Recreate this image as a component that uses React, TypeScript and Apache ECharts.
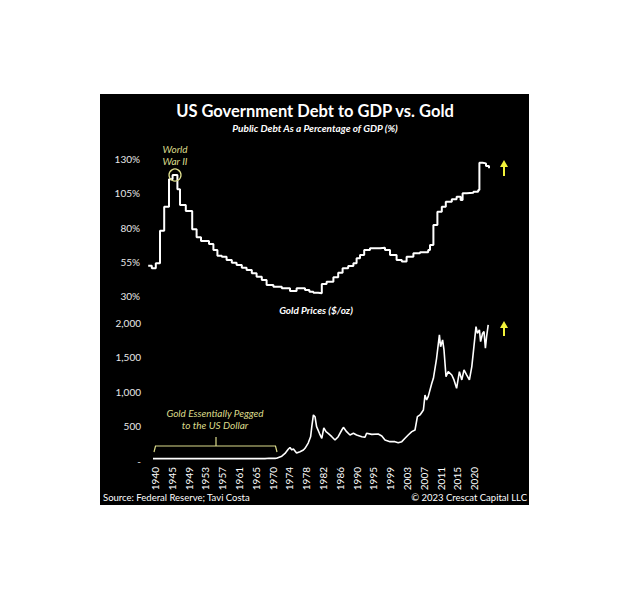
import React, { useEffect, useRef } from "react";
import * as echarts from "echarts";

// ---------------- data ----------------
const debtYears = [
  1938.3, 1939.2, 1940.2, 1941.25, 1942.3, 1943.5, 1944.4, 1945.6, 1946.25, 1947.7,
  1949.3, 1950.4, 1951.5, 1953.5, 1954.6, 1955.6, 1956.7, 1957.9, 1959.2, 1960.4,
  1961.7, 1962.9, 1964.2, 1965.4, 1966.7, 1967.9, 1969.6, 1971.7, 1973.75, 1975.4,
  1977.5, 1978.6, 1979.6, 1980.8, 1981.7, 1982.9, 1984.6, 1985.8, 1986.9, 1988.3,
  1989.6, 1990.4, 1991.25, 1992.3, 1993.75, 1996.25, 1997.5, 1998.75, 2000.4, 2001.7,
  2002.9, 2004.6, 2006.25, 2008.3, 2008.75, 2009.6, 2010.6, 2011.7, 2012.7, 2014.2,
  2015.4, 2016.4, 2016.9, 2017.9, 2019.6, 2020.8, 2021.1, 2021.9, 2022.75, 2023.5,
];
const debtValues = [
  52.1, 50.2, 53.9, 77.7, 95.2, 115.2, 118.3, 107.9, 96.4, 92,
  78.7, 72.8, 70.1, 67.9, 63.6, 59.4, 58.7, 56.3, 54.3, 52.6,
  50.7, 49, 46.6, 44.1, 41.7, 38, 36.8, 35.6, 33.6, 35.6,
  34.4, 33.1, 32.4, 32, 38.8, 40.4, 43.6, 47, 50.2, 51.9,
  53.9, 57.5, 59.9, 63.6, 64.8, 65.3, 63.6, 59.9, 56.3, 55.1,
  58.7, 61.2, 61.9, 63.6, 67.2, 81.8, 91.5, 95.2, 98.8, 100.6,
  102.5, 100.1, 105, 105.4, 106.1, 107.4, 127.3, 126.8, 124.9, 123.2,
];

const goldYears = [
  1939.5, 1967.5, 1968.5, 1970, 1970.4, 1971.7, 1972.5, 1973.3, 1973.75, 1974.2,
  1974.6, 1975.4, 1976.25, 1977.1, 1977.5, 1978.3, 1978.9, 1979.2, 1979.6, 1980,
  1980.4, 1981.1, 1981.7, 1982.2, 1982.75, 1983.3, 1984.2, 1985, 1985.8, 1986.7,
  1987.1, 1987.9, 1988.75, 1989.6, 1990.4, 1991.7, 1992.5, 1992.9, 1994.2, 1995.8,
  1996.7, 1997.5, 1998.75, 2000, 2000.8, 2001.7, 2002.5, 2003.3, 2004.2, 2005,
  2005.6, 2006.25, 2007.1, 2007.5, 2007.9, 2008.3, 2009.2, 2009.6, 2010.4, 2011.1,
  2011.4, 2011.9, 2012.25, 2012.75, 2013.3, 2014.2, 2014.75, 2015.4, 2016.1, 2016.7,
  2017.25, 2017.9, 2018.6, 2019.2, 2019.6, 2020.25, 2020.6, 2021.1, 2021.4, 2021.9,
  2022.25, 2022.6, 2022.9, 2023.3,
];
const goldValues = [
  35, 35, 39, 38, 40, 70, 110, 170, 195, 160,
  175, 115, 135, 160, 184, 260, 350, 497, 667, 642,
  497, 401, 329, 480, 425, 401, 352, 304, 352, 449,
  488, 425, 377, 401, 377, 352, 343, 401, 386, 390,
  362, 304, 280, 280, 265, 280, 329, 377, 425, 449,
  642, 667, 739, 956, 884, 932, 1126, 1198, 1488, 1826,
  1656, 1753, 1608, 1222, 1294, 1246, 1174, 1053, 1294, 1174,
  1319, 1246, 1174, 1367, 1584, 1946, 1850, 1898, 1729, 1850,
  1874, 1633, 1801, 1970,
];

const yearLabels = [
  "1940", "1945", "1949", "1953", "1957", "1961", "1965", "1970", "1974", "1978",
  "1982", "1986", "1990", "1995", "1999", "2003", "2007", "2011", "2015", "2020",
];
const debtTicks = [30, 55, 80, 105, 130];
const goldTicks = [0, 500, 1000, 1500, 2000];

const LABEL_START = 1940;
const LABEL_STEP = 4.2;

const FONT = "Lato, 'Open Sans', 'DejaVu Sans', sans-serif";
const ANNOT = "#dcdc8c";
const ARROW = "#f2f23a";

export default function App() {
  const ref = useRef<HTMLDivElement>(null);

  useEffect(() => {
    if (!ref.current) return;
    const chart = echarts.init(ref.current, undefined, { renderer: "svg" });

    const debtData = debtYears.map((y, i) => [y, debtValues[i]]);
    const goldData = goldYears.map((y, i) => [y, goldValues[i]]);
    const labelPositions = yearLabels.map((_, i) => LABEL_START + i * LABEL_STEP);

    // peak of WWII debt for the circle marker
    let peak = 0;
    debtValues.forEach((v, i) => {
      if (debtYears[i] < 1950 && v > debtValues[peak]) peak = i;
    });
    const peakX = (debtYears[peak] + debtYears[peak + 1]) / 2;

    const noAxis = {
      axisLine: { show: false },
      axisTick: { show: false },
      splitLine: { show: false },
    };

    const option: any = {
      animation: false,
      textStyle: { fontFamily: FONT },
      grid: [
        { left: 143, width: 372, top: 159, height: 137, containLabel: false, outerBoundsMode: "none" },
        { left: 143, width: 372, top: 316, height: 145, containLabel: false, outerBoundsMode: "none" },
      ],
      xAxis: [
        { gridIndex: 0, type: "value", min: 1937, max: 2030, show: false },
        {
          gridIndex: 1,
          type: "value",
          min: 1937,
          max: 2030,
          ...noAxis,
          axisLabel: {
            customValues: labelPositions,
            formatter: (v: number) => {
              const i = Math.round((v - LABEL_START) / LABEL_STEP);
              return yearLabels[i] ?? "";
            },
            rotate: 90,
            color: "#ffffff",
            fontSize: 10,
            fontFamily: FONT,
            margin: 6,
          },
        },
      ],
      yAxis: [
        {
          gridIndex: 0,
          type: "value",
          min: 30,
          max: 130,
          ...noAxis,
          axisLabel: {
            customValues: debtTicks,
            formatter: (v: number) => `${v}%`,
            color: "#e8e8e8",
            fontSize: 10,
            fontFamily: FONT,
            margin: 3,
          },
        },
        {
          gridIndex: 1,
          type: "value",
          min: 0,
          max: 2100,
          ...noAxis,
          axisLabel: {
            customValues: goldTicks,
            formatter: (v: number) => (v === 0 ? "-" : v.toLocaleString("en-US")),
            color: "#e8e8e8",
            fontSize: 10,
            fontFamily: FONT,
            margin: 2,
          },
        },
      ],
      series: [
        {
          type: "line",
          xAxisIndex: 0,
          yAxisIndex: 0,
          step: "end",
          data: debtData,
          showSymbol: false,
          clip: false,
          lineStyle: { color: "#ffffff", width: 2 },
          markPoint: {
            silent: true,
            data: [
              {
                coord: [peakX, debtValues[peak]],
                symbol: "circle",
                symbolSize: 12,
                itemStyle: { color: "rgba(0,0,0,0)", borderColor: ANNOT, borderWidth: 1.3 },
                label: { show: false },
              },
            ],
          },
        },
        {
          type: "line",
          xAxisIndex: 1,
          yAxisIndex: 1,
          data: goldData,
          showSymbol: false,
          clip: false,
          lineStyle: { color: "#ffffff", width: 1.6 },
        },
      ],
      graphic: [
        {
          type: "rect",
          z: -10,
          shape: { x: 100, y: 94, width: 429, height: 411 },
          style: { fill: "#000000" },
        },
        {
          type: "text",
          x: 315,
          y: 111,
          style: {
            text: "US Government Debt to GDP vs. Gold",
            fill: "#ffffff",
            font: `bold 16.5px ${FONT}`,
            align: "center",
            verticalAlign: "middle",
          },
        },
        {
          type: "text",
          x: 315,
          y: 128,
          style: {
            text: "Public Debt As a Percentage of GDP (%)",
            fill: "#ffffff",
            font: `italic bold 10px ${FONT}`,
            align: "center",
            verticalAlign: "middle",
          },
        },
        {
          type: "text",
          x: 316,
          y: 310,
          style: {
            text: "Gold Prices ($/oz)",
            fill: "#ffffff",
            font: `italic bold 10px ${FONT}`,
            align: "center",
            verticalAlign: "middle",
          },
        },
        {
          type: "text",
          x: 175,
          y: 155,
          style: {
            text: "World\nWar II",
            fill: ANNOT,
            font: `italic 10px ${FONT}`,
            lineHeight: 12,
            align: "center",
            verticalAlign: "middle",
          },
        },
        {
          type: "text",
          x: 215,
          y: 419,
          style: {
            text: "Gold Essentially Pegged\nto the US Dollar",
            fill: ANNOT,
            font: `italic 10px ${FONT}`,
            lineHeight: 11.5,
            align: "center",
            verticalAlign: "middle",
          },
        },
        {
          type: "polyline",
          shape: { points: [[154, 452], [155.5, 446], [275.5, 446], [277, 452]] },
          style: { stroke: ANNOT, lineWidth: 1.2, fill: null },
        },
        {
          type: "line",
          shape: { x1: 216, y1: 446, x2: 216, y2: 437 },
          style: { stroke: ANNOT, lineWidth: 1.2 },
        },
        {
          type: "line",
          shape: { x1: 504, y1: 176, x2: 504, y2: 166 },
          style: { stroke: ARROW, lineWidth: 2 },
        },
        {
          type: "polygon",
          shape: { points: [[500, 167], [508, 167], [504, 160]] },
          style: { fill: ARROW },
        },
        {
          type: "line",
          shape: { x1: 504, y1: 336, x2: 504, y2: 327 },
          style: { stroke: ARROW, lineWidth: 2 },
        },
        {
          type: "polygon",
          shape: { points: [[500, 328], [508, 328], [504, 321]] },
          style: { fill: ARROW },
        },
        {
          type: "text",
          x: 103,
          y: 497,
          style: {
            text: "Source: Federal Reserve; Tavi Costa",
            fill: "#ffffff",
            font: `9.5px ${FONT}`,
            align: "left",
            verticalAlign: "middle",
          },
        },
        {
          type: "text",
          x: 527,
          y: 497,
          style: {
            text: "© 2023 Crescat Capital LLC",
            fill: "#ffffff",
            font: `9.5px ${FONT}`,
            align: "right",
            verticalAlign: "middle",
          },
        },
      ],
    };

    chart.setOption(option);
    return () => chart.dispose();
  }, []);

  return (
    <div
      ref={ref}
      style={{ position: "absolute", left: 0, top: 0, width: 630, height: 597 }}
    />
  );
}
